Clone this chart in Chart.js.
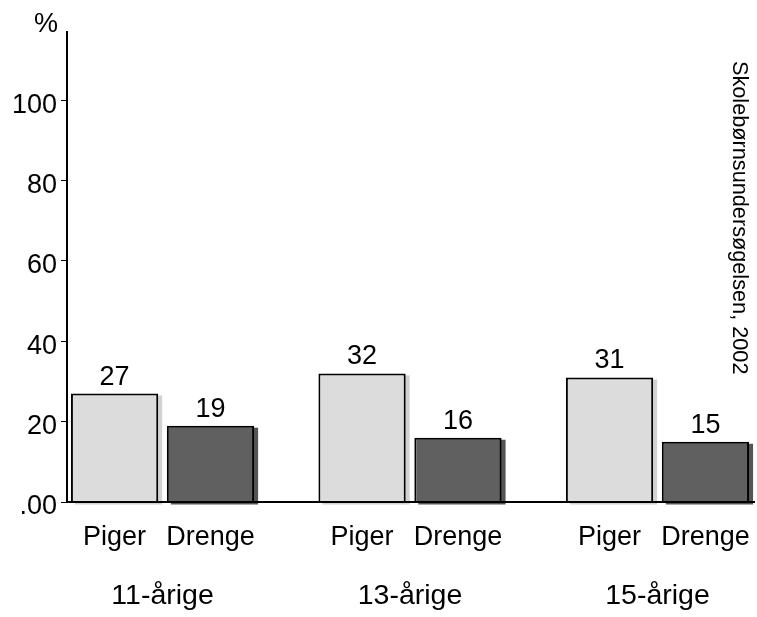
<!DOCTYPE html>
<html>
<head>
<meta charset="utf-8">
<script src="https://cdn.jsdelivr.net/npm/chart.js@4"></script>
<style>
  html, body { margin: 0; padding: 0; background: #ffffff; }
  #wrap { width: 757px; height: 617px; }
</style>
</head>
<body>
<div id="wrap"><canvas id="chart" width="757" height="617"></canvas></div>
<script>
// Age groups and the share (%) of girls and boys in each
const ageGroups = ['11-årige', '13-årige', '15-årige'];
const genderLabels = ['Piger', 'Drenge'];
const piger = [27, 32, 31];
const drenge = [19, 16, 15];
const yTickValues = [0, 20, 40, 60, 80, 100];
const unitLabel = '%';
const sourceNote = 'Skolebørnsundersøgelsen, 2002';

const FONT = "'Liberation Sans', Arial, Helvetica, sans-serif";

const toPoints = arr => arr.map((v, i) => ({ x: i, y: v }));

// Drop shadows behind the bars plus all the annotation text
const decorPlugin = {
  id: 'decor',
  beforeDatasetsDraw(chart) {
    const ctx = chart.ctx;
    chart.data.datasets.forEach((ds, di) => {
      const meta = chart.getDatasetMeta(di);
      meta.data.forEach(bar => {
        const p = bar.getProps(['x', 'y', 'base', 'width'], true);
        ctx.save();
        ctx.fillStyle = ds.shadowColor;
        ctx.fillRect(p.x - p.width / 2 + 4, p.y + 2, p.width, p.base - p.y + 1);
        ctx.restore();
      });
    });
  },
  afterDraw(chart) {
    const ctx = chart.ctx;
    const area = chart.chartArea;
    const xScale = chart.scales.x;
    ctx.save();
    ctx.fillStyle = '#000';
    ctx.textBaseline = 'alphabetic';
    ctx.textAlign = 'center';
    ctx.font = `27px ${FONT}`;

    chart.data.datasets.forEach((ds, di) => {
      const meta = chart.getDatasetMeta(di);
      meta.data.forEach((bar, i) => {
        const p = bar.getProps(['x', 'y'], true);
        // value above the bar
        ctx.fillText(String(ds.data[i].y), p.x, p.y - 9);
        // gender label under the bar
        ctx.fillText(genderLabels[di], p.x, area.bottom + 43);
      });
    });

    // age group labels
    ctx.font = `28.5px ${FONT}`;
    ageGroups.forEach((g, i) => {
      ctx.fillText(g, xScale.getPixelForValue(i), area.bottom + 102);
    });

    // unit above the value axis
    ctx.font = `27px ${FONT}`;
    ctx.textAlign = 'right';
    ctx.fillText(unitLabel, area.left - 9, area.top);

    // source note, rotated along the right edge
    ctx.font = `21.7px ${FONT}`;
    ctx.textAlign = 'left';
    ctx.translate(733, 61);
    ctx.rotate(Math.PI / 2);
    ctx.fillText(sourceNote, 0, 0);
    ctx.restore();
  }
};

new Chart(document.getElementById('chart'), {
  type: 'bar',
  data: {
    datasets: [
      {
        label: genderLabels[0],
        data: toPoints(piger),
        backgroundColor: '#dcdcdc',
        shadowColor: '#d2d2d2',
        borderColor: '#000000',
        borderWidth: 2
      },
      {
        label: genderLabels[1],
        data: toPoints(drenge),
        backgroundColor: '#606060',
        shadowColor: '#555555',
        borderColor: '#000000',
        borderWidth: 2
      }
    ]
  },
  options: {
    responsive: false,
    animation: false,
    devicePixelRatio: 1,
    layout: { padding: { top: 32, right: 3, left: 0, bottom: 0 } },
    datasets: {
      bar: { categoryPercentage: 0.775, barPercentage: 0.91 }
    },
    plugins: {
      legend: { display: false },
      tooltip: { enabled: false }
    },
    scales: {
      x: {
        type: 'linear',
        offset: false,
        min: -0.386,
        max: 2.39,
        afterBuildTicks: scale => {
          scale.ticks = ageGroups.map((_, i) => ({ value: i }));
        },
        afterFit: scale => { scale.height = 115; },
        ticks: { display: false },
        grid: { display: true, offset: false, drawOnChartArea: false, drawTicks: false },
        border: { display: true, color: '#000000', width: 2, z: 1 }
      },
      y: {
        type: 'linear',
        min: 0,
        max: 117,
        afterBuildTicks: scale => {
          scale.ticks = yTickValues.map(v => ({ value: v }));
        },
        afterFit: scale => { scale.width = 67; },
        ticks: {
          color: '#000000',
          font: { family: FONT, size: 27 },
          padding: 4,
          labelOffset: 5,
          callback: v => (v === 0 ? '.00' : String(v))
        },
        grid: {
          drawOnChartArea: false,
          drawTicks: true,
          tickLength: 6,
          color: '#000000',
          lineWidth: 1
        },
        border: { display: true, color: '#000000', width: 2 }
      }
    }
  },
  plugins: [decorPlugin]
});
</script>
</body>
</html>
